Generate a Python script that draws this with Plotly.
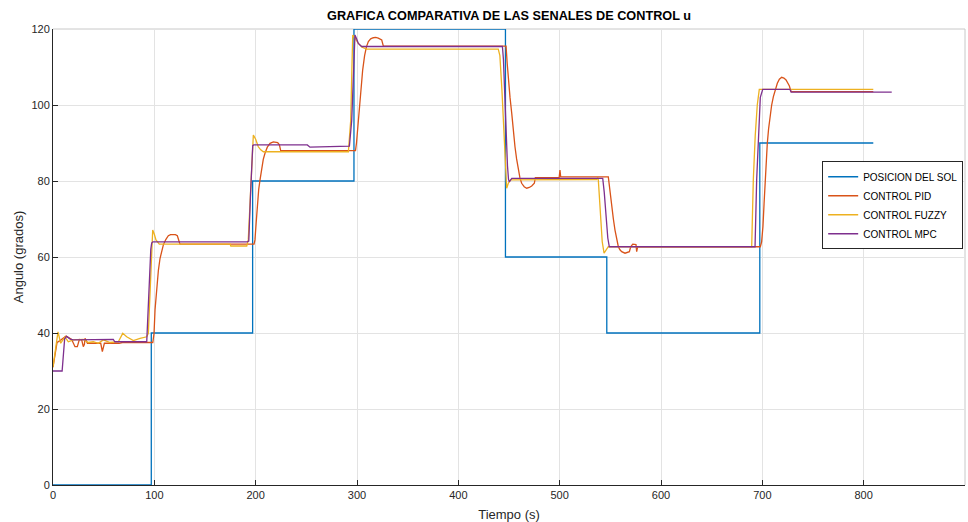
import plotly.graph_objects as go

# --- Reference signal: sun position (step profile) ---
t_sol = [0, 97, 97, 197, 197, 297, 297, 446.5, 446.5, 546.5, 546.5, 697.5, 697.5, 809.5]
u_sol = [0, 0, 40, 40, 80, 80, 120, 120, 60, 60, 40, 40, 90, 90]

# --- PID controller output ---
t_pid = [0, 2, 4, 7, 12.9, 18.4, 21.7, 24, 26, 28.3, 29.9, 31, 31.6, 34, 47.1, 48.7, 50.7,
         65.2, 68.4, 98.5,
         99.7, 100.7, 102.3, 104, 105.6, 107.2, 108.9, 111.3, 113.8, 116, 118.7, 120.8,
         122.7, 124.3, 125.3, 198.4,
         199.3, 200.5, 201.8, 203, 204.3, 206, 207.5, 209.2, 211.5, 214.2, 217.4, 221.7,
         223.4, 224.7, 298.5,
         299.5, 301.3, 303.5, 305.6, 307.5, 309.3, 311.2, 313.5, 316.1, 318.5, 321, 324.4,
         326, 447.1,
         448.2, 449.3, 451, 452.7, 454.2, 455.9, 457.5, 459.2, 460.8, 462.5, 465, 467.5,
         470, 472.4, 475, 476, 499.5, 500.3, 501, 548,
         549.6, 551.3, 553, 554.6, 556.3, 557.9, 559.5, 561.2, 564.5, 568.8, 570.1, 572.1,
         575.3, 576, 577, 698,
         699.3, 700.6, 701.7, 702.7, 703.8, 704.9, 706.2, 707.6, 709.2, 710.9, 712.8, 714.8,
         716.8, 719.1, 721.3, 723.4, 726.7, 728.3, 809.5]
u_pid = [31, 35, 37.5, 38, 39.2, 38.3, 36.4, 36.4, 38.3, 38.2, 36.4, 37, 38.6, 37.3, 37.3, 35.1, 37.3,
         37.3, 37.5, 37.5,
         39.9, 46.1, 52.2, 56.5, 59.6, 61.7, 63.2, 64.6, 65.6, 65.9, 66.0, 65.9,
         65.6, 64.5, 63.4, 63.4,
         64.5, 69, 74, 77.8, 80.3, 83.5, 85.7, 87.3, 88.9, 89.9, 90.3, 90.1,
         89.5, 88.0, 88.0,
         90, 96.1, 104, 109.2, 113, 115.3, 116.7, 117.4, 117.7, 117.8, 117.6, 117.1,
         115.5, 115.5,
         111, 106.6, 102, 97.8, 93, 89.0, 85.8, 82.9, 80.8, 79.4, 78.5, 78.1,
         78.3, 78.7, 79.4, 80.9, 80.9, 82.9, 81.1, 81.1,
         77, 73.2, 70, 67.1, 64.6, 62.7, 61.9, 61.4, 61.0, 61.4, 62.7, 63.4,
         63.3, 61.4, 62.7, 62.7,
         64, 68, 74, 80.3, 85.5, 89.9, 93.8, 96.9, 100, 102.2, 104.2, 105.7,
         106.8, 107.3, 107.1, 106.6, 105, 103.5, 103.5]

# --- Fuzzy controller output ---
t_fuzzy = [0, 2.3, 4.9, 7.6, 11.8, 15.1, 20.1, 29.9, 34.9, 39.8, 44.7, 49.7, 56.3, 64.5,
           68.8, 72.7, 79.3, 85.9, 92.5,
           94.1, 96, 97.5, 98.4, 100, 101.6, 104.9, 174.7, 175.5, 191.2,
           192.7, 195, 196.8, 197.7, 200, 202.6, 205, 207.6, 291.5,
           293.8, 295, 295.8, 297, 299, 301.3, 305, 309.6, 439.4,
           441, 443, 445, 446.7, 447.7, 449.5, 451.7, 536.6, 537.5, 538.1,
           540, 542, 543.8, 546, 548, 689.5,
           691.1, 693, 695, 697, 809.5]
u_fuzzy = [31, 36, 40.3, 37.3, 39.0, 37.7, 38.2, 38.3, 37.5, 37.7, 37.3, 38.2, 37.5, 37.7,
           39.9, 39.0, 38.0, 38.6, 39.0,
           39.9, 52, 62, 67.1, 66, 64.5, 63.4, 63.4, 62.9, 62.9,
           64.5, 78, 89, 92.1, 91, 89.0, 88.2, 87.7, 87.7,
           96, 110, 118.4, 118, 117, 116.2, 115.2, 114.7, 114.7,
           113, 104, 92, 81, 78.1, 79.5, 80.3, 80.4, 81.0, 80.5,
           72, 64, 61.0, 62, 62.7, 62.7,
           80.3, 92, 100, 104.1, 104.1]

# --- MPC controller output ---
t_mpc = [0, 9, 11.5, 13.5, 17, 20, 59.5, 61, 92.5,
         93.5, 95, 96.5, 97.4, 98.5, 191.8,
         193.2, 195, 197.1, 198, 251, 253.6, 292.5,
         294.8, 296.5, 297.5, 298, 299.5, 301.3, 304.6, 443.5,
         444.5, 445.3, 447, 448.5, 449.5, 450.3, 452.7, 542.5,
         544, 546, 547.5, 549, 692.8,
         694.4, 696.5, 698, 700.4, 727.3, 728.5, 827.7]
u_mpc = [30, 30, 38.5, 39.1, 38.4, 38.2, 38.3, 37.7, 37.7,
         45, 55, 62, 63.7, 64.0, 64.0,
         64.2, 77, 89.3, 89.5, 89.5, 88.9, 89.2,
         96, 110, 117, 118.4, 117.5, 116.2, 115.4, 115.4,
         112, 106, 93, 84, 80.5, 79.8, 80.7, 80.7,
         77, 70, 65, 62.7, 62.7,
         80.3, 96, 102, 104.1, 104.1, 103.4, 103.4]

series = [
    ("POSICION DEL SOL", t_sol, u_sol, "#0072BD"),
    ("CONTROL PID", t_pid, u_pid, "#D95319"),
    ("CONTROL FUZZY", t_fuzzy, u_fuzzy, "#EDB120"),
    ("CONTROL MPC", t_mpc, u_mpc, "#7E2F8E"),
]

fig = go.Figure()
for name, t, u, color in series:
    fig.add_trace(go.Scatter(x=t, y=u, mode="lines", name=name,
                             line=dict(color=color, width=1.3)))

FONT = "Liberation Sans, Arial, sans-serif"
tick_font = dict(family=FONT, size=11, color="#262626")
label_font = dict(family=FONT, size=13, color="#262626")

fig.update_layout(
    width=968, height=522,
    margin=dict(l=53, r=3, t=29, b=37),
    paper_bgcolor="white", plot_bgcolor="white",
    font=tick_font,
    title=dict(text="<b>GRAFICA COMPARATIVA DE LAS SENALES DE CONTROL u</b>",
               x=0.5, xref="paper", xanchor="center",
               y=1 - 16 / 522, yref="container", yanchor="middle",
               font=dict(family=FONT, size=12.7, color="#000000")),
    showlegend=True,
    legend=dict(x=0.998, y=0.71, xanchor="right", yanchor="top",
                bgcolor="white", bordercolor="#262626", borderwidth=1,
                font=dict(family=FONT, size=10, color="#000000"),
                itemwidth=30, tracegroupgap=0),
)

fig.update_xaxes(
    range=[0, 900], dtick=100, tick0=0,
    showgrid=True, gridcolor="#e3e3e3", gridwidth=1,
    showline=True, linecolor="#262626", linewidth=1, mirror=False,
    ticks="inside", ticklen=5, tickcolor="#262626",
    tickfont=tick_font, zeroline=False,
    title=dict(text="Tiempo (s)", standoff=9, font=label_font),
)
fig.update_yaxes(
    range=[0, 120], dtick=20, tick0=0,
    showgrid=True, gridcolor="#e3e3e3", gridwidth=1,
    showline=True, linecolor="#262626", linewidth=1, mirror=False,
    ticks="inside", ticklen=5, tickcolor="#262626",
    tickfont=tick_font, zeroline=False,
    title=dict(text="Angulo (grados)", standoff=4, font=label_font),
)

# Light frame on the top and right sides of the axes box
fig.add_shape(type="line", xref="paper", yref="paper", x0=0, x1=1, y0=1, y1=1,
              line=dict(color="#c8c8c8", width=1), layer="below")
fig.add_shape(type="line", xref="paper", yref="paper", x0=1, x1=1, y0=0, y1=1,
              line=dict(color="#c8c8c8", width=1), layer="below")

fig.write_html("out.html")
